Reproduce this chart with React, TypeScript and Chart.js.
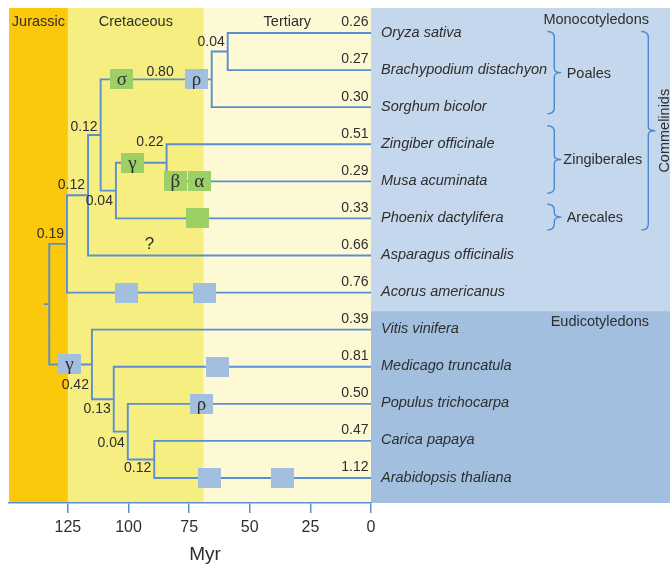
import React, { useEffect, useRef } from 'react';
import { Chart, registerables } from 'chart.js';

Chart.register(...registerables);

// ---------------- data ----------------
const SPECIES = [
  'Oryza sativa',
  'Brachypodium distachyon',
  'Sorghum bicolor',
  'Zingiber officinale',
  'Musa acuminata',
  'Phoenix dactylifera',
  'Asparagus officinalis',
  'Acorus americanus',
  'Vitis vinifera',
  'Medicago truncatula',
  'Populus trichocarpa',
  'Carica papaya',
  'Arabidopsis thaliana',
];
const LEAF_VALUES = ['0.26', '0.27', '0.30', '0.51', '0.29', '0.33', '0.66', '0.76', '0.39', '0.81', '0.50', '0.47', '1.12'];

// internal nodes (ages in Myr); children: number = leaf index, string = node id
const NODE_IDS = ['A', 'B', 'C', 'D', 'E', 'F', 'G', 'H', 'I', 'J', 'K', 'R'];
const NODE_AGES = [59.1, 65.7, 84.3, 105.2, 111.5, 116.7, 125.4, 115.1, 106.1, 100.3, 89.4, 132.7];
const NODE_CHILDREN: (number | string)[][] = [
  [0, 1], ['A', 2], [3, 4], ['C', 5], ['B', 'D'], ['E', 6], ['F', 7],
  [8, 'I'], [9, 'J'], [10, 'K'], [11, 12], ['G', 'H'],
];
const NODE_VALUES = ['0.04', '', '0.22', '0.04', '0.12', '0.12', '0.19', '0.42', '0.13', '0.04', '0.12', ''];
const ROOT_STUB_AGE = 134.5;

// branch annotations
const BRANCH_LABEL_TARGET: (number | string)[] = ['B', 6];
const BRANCH_LABEL_AGE = [87.0, 91.4];
const BRANCH_LABEL_TEXT = ['0.80', '?'];

// duplication events: branch (child), age, letter, kind
const EVENT_BRANCH: (number | string)[] = ['B', 'B', 'C', 4, 4, 5, 7, 7, 'H', 9, 10, 12, 12];
const EVENT_AGE = [102.8, 72.0, 98.4, 80.7, 70.8, 71.6, 100.9, 68.7, 124.4, 63.4, 69.9, 66.6, 36.6];
const EVENT_LETTER = ['σ', 'ρ', 'γ', 'β', 'α', '', '', '', 'γ', '', 'ρ', '', ''];
const EVENT_KIND = ['g', 'b', 'g', 'g', 'g', 'g', 'b', 'b', 'b', 'b', 'b', 'b', 'b'];

// geological periods (Myr)
const PERIOD_NAMES = ['Jurassic', 'Cretaceous', 'Tertiary'];
const PERIOD_BOUNDS = [149.3, 125, 69, 0];

const TICKS = [0, 25, 50, 75, 100, 125];

// clades on the right
const CLADE_NAMES = ['Poales', 'Zingiberales', 'Arecales', 'Commelinids'];
const GROUP_NAMES = ['Monocotyledons', 'Eudicotyledons'];
const GROUP_SPLIT_ROW = 7.5;

// ---------------- styles ----------------
const FONT = '"Liberation Sans", Arial, Helvetica, sans-serif';
const SERIF = '"Liberation Serif", "Times New Roman", serif';
const TEXT = '#2e2e2e';
const LINE = '#5a8fd2';
const BRACKET = '#4a88d2';
const GREEN = '#9ccf65';
const BLUE_BOX = '#a3bfe0';
const PERIOD_COLORS = ['#fcc80b', '#f6ee80', '#fdf9d5'];
const PANEL_TOP = '#c5d7ec';
const PANEL_BOTTOM = '#a2bfdf';
const NODE_LABEL_DY = [-9, 0, -21, 11, -8, -10, -10, 21, 10, 11, 9, 0];
const BRACKET_X = [554.3, 554.3, 554.3, 648.3];
const BRACKET_TOP = [-0.04, 2.5, 4.62, -0.04];
const BRACKET_BOTTOM = [2.18, 4.32, 5.31, 5.31];
const CLADE_TEXT_X = [566.7, 563.3, 566.7, 665];

// ---------------- helpers ----------------
const nodeIndex = (id: string) => NODE_IDS.indexOf(id);
const ageOf = (ref: number | string) => (typeof ref === 'number' ? 0 : NODE_AGES[nodeIndex(ref)]);
const rowOf = (ref: number | string): number => {
  if (typeof ref === 'number') return ref;
  const [a, b] = NODE_CHILDREN[nodeIndex(ref)];
  return (rowOf(a) + rowOf(b)) / 2;
};

function buildBranches() {
  const pts: { x: number | null; y: number | null }[] = [];
  NODE_IDS.forEach((id, i) => {
    const [a, b] = NODE_CHILDREN[i];
    const age = NODE_AGES[i];
    pts.push(
      { x: ageOf(a), y: rowOf(a) },
      { x: age, y: rowOf(a) },
      { x: age, y: rowOf(b) },
      { x: ageOf(b), y: rowOf(b) },
      { x: null, y: null },
    );
  });
  pts.push({ x: ROOT_STUB_AGE, y: rowOf('R') }, { x: NODE_AGES[nodeIndex('R')], y: rowOf('R') });
  return pts;
}

function makeBox(color: string) {
  const c = document.createElement('canvas');
  c.width = 23;
  c.height = 20;
  const g = c.getContext('2d')!;
  g.fillStyle = color;
  g.fillRect(0, 0, 23, 20);
  return c;
}

function drawBrace(ctx: CanvasRenderingContext2D, x: number, top: number, bottom: number) {
  const mid = (top + bottom) / 2;
  const h = 7;
  const r = 6;
  ctx.beginPath();
  ctx.moveTo(x - h, top);
  ctx.quadraticCurveTo(x, top, x, top + r);
  ctx.lineTo(x, mid - 4);
  ctx.quadraticCurveTo(x, mid, x + h, mid);
  ctx.quadraticCurveTo(x, mid, x, mid + 4);
  ctx.lineTo(x, bottom - r);
  ctx.quadraticCurveTo(x, bottom, x - h, bottom);
  ctx.stroke();
}

const decorPlugin = {
  id: 'decor',
  beforeDraw(chart: any) {
    const { ctx, chartArea, scales } = chart;
    const xs = scales.x;
    const ys = scales.y;
    ctx.save();
    for (let i = 0; i < PERIOD_NAMES.length; i++) {
      const x0 = xs.getPixelForValue(PERIOD_BOUNDS[i]);
      const x1 = xs.getPixelForValue(PERIOD_BOUNDS[i + 1]);
      ctx.fillStyle = PERIOD_COLORS[i];
      ctx.fillRect(x0, chartArea.top, x1 - x0, chartArea.bottom - chartArea.top);
    }
    const px = xs.getPixelForValue(0);
    const split = ys.getPixelForValue(GROUP_SPLIT_ROW);
    ctx.fillStyle = PANEL_TOP;
    ctx.fillRect(px, chartArea.top, chart.width - px, split - chartArea.top);
    ctx.fillStyle = PANEL_BOTTOM;
    ctx.fillRect(px, split, chart.width - px, chartArea.bottom - split);
    ctx.restore();
  },
  afterDraw(chart: any) {
    const { ctx, chartArea, scales } = chart;
    const xs = scales.x;
    const ys = scales.y;
    const X = (v: number) => xs.getPixelForValue(v);
    const Y = (v: number) => ys.getPixelForValue(v);
    ctx.save();
    ctx.fillStyle = TEXT;
    ctx.textBaseline = 'middle';

    // period names
    ctx.font = `14.5px ${FONT}`;
    ctx.textAlign = 'center';
    PERIOD_NAMES.forEach((n, i) => {
      ctx.fillText(n, (X(PERIOD_BOUNDS[i]) + X(PERIOD_BOUNDS[i + 1])) / 2, chartArea.top + 14);
    });

    // node support values
    ctx.font = `14px ${FONT}`;
    ctx.textAlign = 'right';
    NODE_IDS.forEach((id, i) => {
      if (!NODE_VALUES[i]) return;
      ctx.fillText(NODE_VALUES[i], X(NODE_AGES[i]) - 3, Y(rowOf(id)) + NODE_LABEL_DY[i]);
    });

    // leaf values
    LEAF_VALUES.forEach((v, i) => {
      ctx.fillText(v, X(0) - 2.5, Y(i) - 10.5);
    });

    // branch labels
    ctx.textAlign = 'center';
    BRANCH_LABEL_TEXT.forEach((t, i) => {
      ctx.font = t === '?' ? `17px ${FONT}` : `14px ${FONT}`;
      ctx.fillText(t, X(BRANCH_LABEL_AGE[i]), Y(rowOf(BRANCH_LABEL_TARGET[i])) - (t === '?' ? 11 : 7));
    });

    // event letters
    ctx.font = `19px ${SERIF}`;
    EVENT_LETTER.forEach((l, i) => {
      if (!l) return;
      ctx.fillText(l, X(EVENT_AGE[i]), Y(rowOf(EVENT_BRANCH[i])) + 1);
    });

    // species names
    ctx.font = `italic 14.5px ${FONT}`;
    ctx.textAlign = 'left';
    SPECIES.forEach((s, i) => {
      ctx.fillText(s, X(0) + 10, Y(i) - 0.5);
    });

    // group names
    ctx.font = `14.5px ${FONT}`;
    ctx.textAlign = 'right';
    ctx.fillText(GROUP_NAMES[0], 649, chartArea.top + 12);
    ctx.fillText(GROUP_NAMES[1], 649, Y(GROUP_SPLIT_ROW) + 11);

    // brackets
    ctx.strokeStyle = BRACKET;
    ctx.lineWidth = 1.4;
    CLADE_NAMES.forEach((n, i) => {
      const t = Y(BRACKET_TOP[i]);
      const b = Y(BRACKET_BOTTOM[i]);
      drawBrace(ctx, BRACKET_X[i], t, b);
      const mid = (t + b) / 2;
      if (i < 3) {
        ctx.textAlign = 'left';
        ctx.fillText(n, CLADE_TEXT_X[i], mid + 1);
      } else {
        ctx.save();
        ctx.translate(CLADE_TEXT_X[i], mid);
        ctx.rotate(-Math.PI / 2);
        ctx.textAlign = 'center';
        ctx.fillText(n, 0, 0);
        ctx.restore();
      }
    });

    // axis title
    ctx.font = `19px ${FONT}`;
    ctx.textAlign = 'center';
    ctx.fillText('Myr', 205, 555);
    ctx.restore();
  },
};

export default function App() {
  const ref = useRef<HTMLCanvasElement>(null);

  useEffect(() => {
    const canvas = ref.current;
    if (!canvas) return;
    const green = makeBox(GREEN);
    const blue = makeBox(BLUE_BOX);
    const chart = new Chart(canvas, {
      type: 'scatter',
      data: {
        datasets: [
          {
            label: 'events',
            data: EVENT_AGE.map((a, i) => ({ x: a, y: rowOf(EVENT_BRANCH[i]) })),
            pointStyle: EVENT_KIND.map((k) => (k === 'g' ? green : blue)) as any,
            pointRadius: 10,
            showLine: false,
            order: 1,
          },
          {
            label: 'branches',
            data: buildBranches() as any,
            showLine: true,
            borderColor: LINE,
            borderWidth: 1.9,
            pointRadius: 0,
            tension: 0,
            spanGaps: false,
            borderCapStyle: 'square',
            borderJoinStyle: 'miter',
            order: 2,
          } as any,
        ],
      },
      options: {
        responsive: false,
        animation: false,
        events: [],
        layout: { padding: { left: 9, right: 299, top: 8, bottom: 0 }, autoPadding: false } as any,
        plugins: { legend: { display: false }, tooltip: { enabled: false } },
        scales: {
          x: {
            type: 'linear',
            reverse: true,
            min: 0,
            max: PERIOD_BOUNDS[0],
            afterBuildTicks: (s: any) => {
              s.ticks = TICKS.map((v) => ({ value: v }));
            },
            afterFit: (s: any) => {
              s.height = 63;
            },
            grid: { drawOnChartArea: false, drawTicks: true, tickLength: 10, color: LINE, lineWidth: 1.5 },
            border: { display: true, color: LINE, width: 1.5 },
            ticks: { color: TEXT, font: { family: FONT, size: 16 }, padding: 5, maxRotation: 0 },
          },
          y: {
            type: 'linear',
            display: false,
            reverse: true,
            min: -0.674,
            max: 12.674,
          },
        },
      },
      plugins: [decorPlugin],
    });
    return () => chart.destroy();
  }, []);

  return (
    <div style={{ position: 'absolute', left: 0, top: 0, width: 670, height: 566 }}>
      <canvas ref={ref} width={670} height={566} style={{ display: 'block', width: 670, height: 566 }} />
    </div>
  );
}
